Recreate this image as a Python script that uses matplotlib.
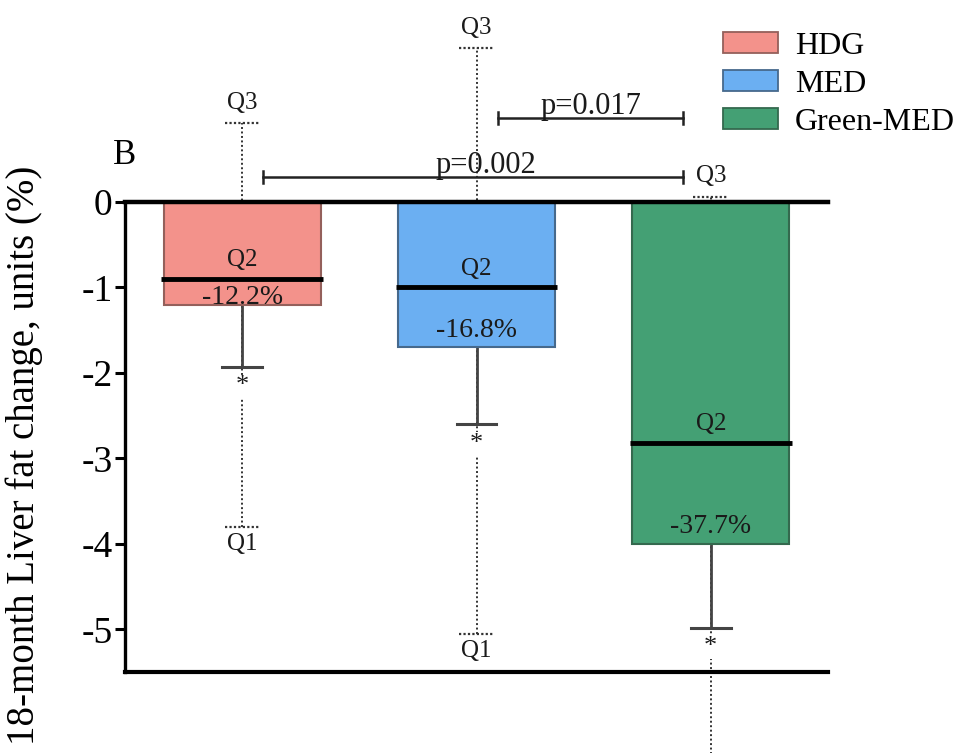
import matplotlib
matplotlib.use("Agg")
import matplotlib.pyplot as plt
from matplotlib.patches import Patch

plt.rcParams['font.family'] = ['Liberation Serif', 'DejaVu Serif']

# Group summaries (change in liver fat units)
groups = ["HDG", "MED", "Green-MED"]
means = [-1.2, -1.7, -4.0]
err_low = [0.73, 0.90, 0.98]
medians = [-0.90, -1.00, -2.82]
q1 = [-3.80, -5.05, -7.00]
q3 = [0.92, 1.80, 0.06]
pct_labels = ["-12.2%", "-16.8%", "-37.7%"]
colors = ["#F3928B", "#6BAFF2", "#44A074"]
edges = ["#94605B", "#46698C", "#34694E"]

# Pairwise comparisons: (from group, to group, p-value text)
comparisons = [(0, 2, "p=0.002"), (1, 2, "p=0.017")]
bracket_levels = [0.29, 0.98]
bracket_span = [(0.087, 1.883), (1.09, 1.883)]
label_shift = [0.055, 0.0]

yticks = [0, -1, -2, -3, -4, -5]

fig = plt.figure(figsize=(9.66, 7.53), dpi=100)
ax = fig.add_axes([125 / 966, (753 - 672) / 753, (828 - 125) / 966, (672 - 202) / 753])
ax.set_xlim(-0.5, 2.5)
ax.set_ylim(-5.5, 0)

x = list(range(len(groups)))
width = 0.67
txt = "#1a1a1a"

# Interquartile dotted whiskers, behind the bars
for i in x:
    ax.plot([i, i], [q1[i], q3[i]], ls=(0, (1, 1.3)), color="#333333", lw=1.4,
            zorder=1, clip_on=False)
    for q in (q1[i], q3[i]):
        ax.plot([i - 0.075, i + 0.075], [q, q], ls=(0, (1, 1)), color="#333333",
                lw=1.6, zorder=1, clip_on=False)
    ax.text(i, q3[i] + 0.11, "Q3", ha="center", va="bottom", fontsize=18,
            color=txt, clip_on=False)
    if q1[i] > -5.5:
        ax.text(i, q1[i] - 0.07, "Q1", ha="center", va="top", fontsize=18,
                color=txt, clip_on=False)

bars = ax.bar(x, means, width=width, color=colors, edgecolor=edges, lw=1.5, zorder=3)

# Lower error bars
for i in x:
    lo = means[i] - err_low[i]
    ax.plot([i, i], [means[i], lo], color="#444444", lw=2.0, zorder=2, clip_on=False)
    ax.plot([i - 0.085, i + 0.085], [lo, lo], color="#444444", lw=2.2, zorder=2,
            clip_on=False)
    ax.text(i, lo - 0.1, "*", ha="center", va="top", fontsize=19, color=txt,
            zorder=5, clip_on=False,
            bbox=dict(facecolor="white", edgecolor="none", pad=0.5))

# Medians and labels
for i in x:
    ax.plot([i - width / 2 - 0.01, i + width / 2 + 0.01], [medians[i], medians[i]],
            color="black", lw=3.5, zorder=4, solid_capstyle="butt")
    ax.text(i, medians[i] + 0.22, "Q2", ha="center", va="center", fontsize=18,
            color=txt, zorder=5)
    ypct = min(means[i] + 0.2, medians[i] - 0.22)
    ax.text(i, ypct, pct_labels[i], ha="center", va="center", fontsize=20,
            color=txt, zorder=5)

# Significance brackets
for (a, b, label), lev, (x0, x1), dx in zip(comparisons, bracket_levels,
                                              bracket_span, label_shift):
    ax.plot([x0, x1], [lev, lev], color="#222222", lw=1.8, clip_on=False)
    for xe in (x0, x1):
        ax.plot([xe, xe], [lev - 0.07, lev + 0.07], color="#222222", lw=1.8,
                clip_on=False)
    ax.text((x0 + x1) / 2 + dx, lev + 0.05, label, ha="center", va="baseline",
            fontsize=22, color=txt, clip_on=False)

# Zero line and axes
ax.axhline(0, color="black", lw=3.2, zorder=6, clip_on=False)
for s in ("top", "right"):
    ax.spines[s].set_visible(False)
ax.spines["left"].set_linewidth(2.4)
ax.spines["bottom"].set_linewidth(3.0)
ax.set_xticks([])
ax.set_yticks(yticks)
ax.set_yticklabels([str(t) for t in yticks])
ax.tick_params(axis="y", direction="out", length=7, width=2.2, labelsize=27,
               pad=2, colors="black")
ax.set_ylabel("18-month Liver fat change, units (%)", fontsize=28)
ax.yaxis.set_label_coords(-0.117, 0.46)

ax.text(-0.55, 0.55, "B", fontsize=25, ha="left", va="center", clip_on=False)

handles = [Patch(facecolor=c, edgecolor=e, lw=1.3) for c, e in zip(colors, edges)]
fig.legend(handles, groups, loc="upper left", bbox_to_anchor=(723 / 966, 1 - 32 / 753),
           frameon=False, fontsize=23, handlelength=1.72, handleheight=0.62,
           handletextpad=0.53, labelspacing=0.28, borderaxespad=0, borderpad=0)

fig.savefig("out.png", dpi=100)
